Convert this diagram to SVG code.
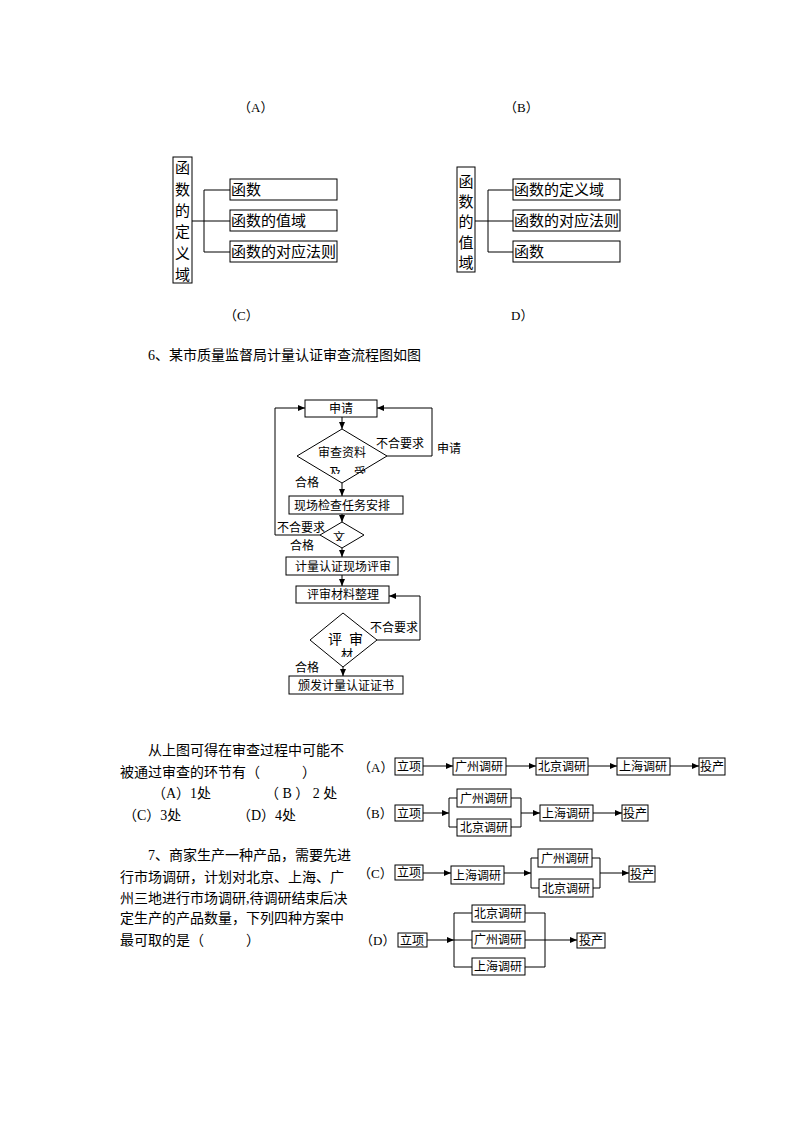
<svg xmlns="http://www.w3.org/2000/svg" width="794" height="1123" viewBox="0 0 794 1123">
<style>
  .bg{fill:#fff}
  .bx{fill:#fff;stroke:#000;stroke-width:1}
  .ln{fill:none;stroke:#000;stroke-width:1}
  .ar{fill:none;stroke:#000;stroke-width:1;marker-end:url(#ah)}
  text{font-family:"Liberation Serif","Noto Sans CJK SC",serif;fill:#000}
  .cjk{font-family:"Noto Sans CJK SC",sans-serif}
  .t15{font-size:15px}
  .t14{font-size:14px}
  .t13{font-size:13px}
  .t12{font-size:12px}
  .mid{text-anchor:middle}
</style>
<defs>
  <marker id="ah" markerWidth="8" markerHeight="8" refX="7" refY="4" orient="auto" markerUnits="userSpaceOnUse">
    <path d="M0,1 L7,4 L0,7 Z" fill="#000"/>
  </marker>
  <clipPath id="c1"><rect x="300" y="440" width="85" height="34"/></clipPath>
  <clipPath id="c2"><rect x="325" y="525" width="35" height="16"/></clipPath>
  <clipPath id="c3"><rect x="315" y="625" width="60" height="32"/></clipPath>
</defs>
<rect class="bg" x="0" y="0" width="794" height="1123"/>

<!-- option labels -->
<text class="t13" x="238" y="111.5"><tspan class="cjk">（</tspan>A<tspan class="cjk">）</tspan></text>
<text class="t13" x="504" y="111.5"><tspan class="cjk">（</tspan>B<tspan class="cjk">）</tspan></text>
<text class="t13" x="224" y="319.5"><tspan class="cjk">（</tspan>C<tspan class="cjk">）</tspan></text>
<text class="t13" x="511" y="319.5">D<tspan class="cjk">）</tspan></text>

<!-- left function diagram -->
<g id="fd1">
  <rect class="bx" x="173" y="157" width="19" height="126"/>
  <text class="t15 mid" x="182.5" y="173">函</text>
  <text class="t15 mid" x="182.5" y="194.5">数</text>
  <text class="t15 mid" x="182.5" y="216">的</text>
  <text class="t15 mid" x="182.5" y="237">定</text>
  <text class="t15 mid" x="182.5" y="258.5">义</text>
  <text class="t15 mid" x="182.5" y="280">域</text>
</g>
<g id="fd1-conn">
  <path class="ln" d="M192,221 H204 M204,190 V252 M204,190 H230 M204,221 H230 M204,252 H230"/>
</g>
<g id="fd1-b1"><rect class="bx" x="230" y="179" width="107" height="21"/><text class="t15" x="231" y="195">函数</text></g>
<g id="fd1-b2"><rect class="bx" x="230" y="210" width="107" height="21"/><text class="t15" x="231" y="226">函数的值域</text></g>
<g id="fd1-b3"><rect class="bx" x="230" y="241" width="107" height="21"/><text class="t15" x="231" y="257">函数的对应法则</text></g>

<!-- right function diagram -->
<g id="fd2">
  <rect class="bx" x="457" y="167" width="18" height="105"/>
  <text class="t15 mid" x="466" y="186.5">函</text>
  <text class="t15 mid" x="466" y="207">数</text>
  <text class="t15 mid" x="466" y="227">的</text>
  <text class="t15 mid" x="466" y="247.5">值</text>
  <text class="t15 mid" x="466" y="267.5">域</text>
</g>
<g id="fd2-conn">
  <path class="ln" d="M475,221 H488 M488,190 V252 M488,190 H513 M488,221 H513 M488,252 H513"/>
</g>
<g id="fd2-b1"><rect class="bx" x="513" y="179" width="107" height="21"/><text class="t15" x="514" y="195">函数的定义域</text></g>
<g id="fd2-b2"><rect class="bx" x="513" y="210" width="107" height="21"/><text class="t15" x="514" y="226">函数的对应法则</text></g>
<g id="fd2-b3"><rect class="bx" x="513" y="241" width="107" height="21"/><text class="t15" x="514" y="257">函数</text></g>

<!-- question 6 heading -->
<text class="t14" x="148" y="360">6、某市质量监督局计量认证审查流程图如图</text>

<!-- flowchart connectors -->
<g id="flow-connectors">
  <path class="ar" d="M342,417 V429"/>
  <path class="ar" d="M342,483 V496"/>
  <path class="ar" d="M342,514 V522"/>
  <path class="ar" d="M342,548 V557"/>
  <path class="ar" d="M342,575 V586"/>
  <path class="ar" d="M343,667 V676"/>
  <path class="ar" d="M387,456 H432 V408 H377"/>
  <path class="ar" d="M320,535 H275 V408 H305"/>
  <path class="ar" d="M377,640 H420 V596 H389"/>
</g>
<g id="n-shenqing"><rect class="bx" x="305" y="400" width="72" height="17"/><text class="t12 mid" x="341" y="412.5">申请</text></g>
<g id="n-d1">
  <polygon class="bx" points="342,429 387,456 342,483 297,456"/>
  <g clip-path="url(#c1)">
    <text class="t12 mid" x="342" y="457">审查资料</text>
    <text class="t12 mid" x="335" y="476.5">及</text>
    <text class="t12 mid" x="360" y="476.5">受</text>
  </g>
</g>
<g id="n-xianchang"><rect class="bx" x="289" y="496" width="114" height="18"/><text class="t12" x="294" y="509.5">现场检查任务安排</text></g>
<g id="n-d2">
  <polygon class="bx" points="342,522 364,535 342,548 320,535"/>
  <g clip-path="url(#c2)"><text class="t12 mid" x="339" y="542">文</text></g>
</g>
<g id="n-jiliang"><rect class="bx" x="286" y="557" width="112" height="18"/><text class="t12" x="295" y="570.5">计量认证现场评审</text></g>
<g id="n-pingshen"><rect class="bx" x="296" y="586" width="93" height="17"/><text class="t12" x="307" y="599">评审材料整理</text></g>
<g id="n-d3">
  <polygon class="bx" points="343,613 377,640 343,667 310,640"/>
  <g clip-path="url(#c3)">
    <text class="t14 mid" x="335" y="644">评</text>
    <text class="t14 mid" x="356" y="644">审</text>
    <text class="t12 mid" x="347" y="659">材</text>
  </g>
</g>
<g id="n-banfa"><rect class="bx" x="289" y="676" width="114" height="18"/><text class="t12" x="298" y="689.5">颁发计量认证证书</text></g>
<g id="flow-labels">
  <text class="t12" x="376" y="447.5">不合要求</text>
  <text class="t12" x="437" y="452.5">申请</text>
  <text class="t12" x="295" y="486.5">合格</text>
  <text class="t12" x="277" y="532">不合要求</text>
  <text class="t12" x="290" y="549.5">合格</text>
  <text class="t12" x="370" y="631.5">不合要求</text>
  <text class="t12" x="295" y="671.5">合格</text>
</g>

<!-- question text -->
<g id="q6-text" class="t14">
  <text x="148" y="755">从上图可得在审查过程中可能不</text>
  <text x="120" y="777">被通过审查的环节有（　　　）</text>
  <text x="152" y="798">（A）1处</text>
  <text x="265" y="798">（ B ） 2 处</text>
  <text x="123" y="820">（C）3处</text>
  <text x="237" y="820">（D）4处</text>
</g>
<g id="q7-text" class="t14">
  <text x="148" y="860">7、商家生产一种产品，需要先进</text>
  <text x="120" y="882">行市场调研，计划对北京、上海、广</text>
  <text x="120" y="903">州三地进行市场调研,待调研结束后决</text>
  <text x="120" y="923">定生产的产品数量，下列四种方案中</text>
  <text x="120" y="945">最可取的是（　　　）</text>
</g>

<!-- option A -->
<text class="t13" x="358" y="771.5"><tspan class="cjk">（</tspan>A<tspan class="cjk">）</tspan></text>
<g id="a-conn">
  <path class="ar" d="M423,766 H453"/>
  <path class="ar" d="M506,766 H536"/>
  <path class="ar" d="M588,766 H617"/>
  <path class="ar" d="M670,766 H699"/>
</g>
<g id="a-lx"><rect class="bx" x="395" y="758" width="28" height="17"/><text class="t12" x="397" y="771">立项</text></g>
<g id="a-gz"><rect class="bx" x="453" y="758" width="53" height="17"/><text class="t12" x="455" y="771">广州调研</text></g>
<g id="a-bj"><rect class="bx" x="536" y="758" width="52" height="17"/><text class="t12" x="538" y="771">北京调研</text></g>
<g id="a-sh"><rect class="bx" x="617" y="758" width="53" height="17"/><text class="t12" x="619" y="771">上海调研</text></g>
<g id="a-tc"><rect class="bx" x="699" y="758" width="26" height="17"/><text class="t12" x="700" y="771">投产</text></g>

<!-- option B -->
<text class="t13" x="358" y="818"><tspan class="cjk">（</tspan>B<tspan class="cjk">）</tspan></text>
<g id="b-conn">
  <path class="ar" d="M423,813 H449"/>
  <path class="ln" d="M449,798 V827 M449,798 H457 M449,827 H457"/>
  <path class="ln" d="M511,798 H521 M511,827 H521 M521,798 V827"/>
  <path class="ar" d="M521,813 H540"/>
  <path class="ar" d="M593,813 H622"/>
</g>
<g id="b-lx"><rect class="bx" x="395" y="805" width="28" height="16"/><text class="t12" x="397" y="817.5">立项</text></g>
<g id="b-gz"><rect class="bx" x="457" y="789" width="54" height="18"/><text class="t12" x="460" y="802.5">广州调研</text></g>
<g id="b-bj"><rect class="bx" x="457" y="819" width="54" height="17"/><text class="t12" x="460" y="832">北京调研</text></g>
<g id="b-sh"><rect class="bx" x="540" y="805" width="53" height="16"/><text class="t12" x="542" y="817.5">上海调研</text></g>
<g id="b-tc"><rect class="bx" x="622" y="805" width="26" height="16"/><text class="t12" x="623" y="817.5">投产</text></g>

<!-- option C -->
<text class="t13" x="358" y="878"><tspan class="cjk">（</tspan>C<tspan class="cjk">）</tspan></text>
<g id="c-conn">
  <path class="ar" d="M423,873 H451"/>
  <path class="ar" d="M504,873 H531"/>
  <path class="ln" d="M531,858 V888 M531,858 H538 M531,888 H539"/>
  <path class="ln" d="M592,858 H600 M593,888 H600 M600,858 V888"/>
  <path class="ar" d="M600,873 H629"/>
</g>
<g id="c-lx"><rect class="bx" x="395" y="865" width="28" height="15"/><text class="t12" x="397" y="877">立项</text></g>
<g id="c-sh"><rect class="bx" x="451" y="866" width="53" height="18"/><text class="t12" x="453" y="879.5">上海调研</text></g>
<g id="c-gz"><rect class="bx" x="538" y="849" width="54" height="18"/><text class="t12" x="541" y="862.5">广州调研</text></g>
<g id="c-bj"><rect class="bx" x="539" y="879" width="54" height="18"/><text class="t12" x="542" y="892.5">北京调研</text></g>
<g id="c-tc"><rect class="bx" x="629" y="866" width="26" height="16"/><text class="t12" x="630" y="878.5">投产</text></g>

<!-- option D -->
<text class="t13" x="360" y="945"><tspan class="cjk">（</tspan>D<tspan class="cjk">）</tspan></text>
<g id="d-conn">
  <path class="ar" d="M427,940 H454"/>
  <path class="ln" d="M454,913 V967 M454,913 H472 M454,940 H472 M454,967 H472"/>
  <path class="ln" d="M525,913 H545 M525,967 H545 M545,913 V967"/>
  <path class="ar" d="M525,940 H577"/>
</g>
<g id="d-lx"><rect class="bx" x="398" y="933" width="29" height="14"/><text class="t12" x="400" y="944.5">立项</text></g>
<g id="d-bj"><rect class="bx" x="472" y="905" width="53" height="17"/><text class="t12" x="474" y="918">北京调研</text></g>
<g id="d-gz"><rect class="bx" x="472" y="931" width="53" height="17"/><text class="t12" x="474" y="944">广州调研</text></g>
<g id="d-sh"><rect class="bx" x="472" y="958" width="53" height="17"/><text class="t12" x="474" y="971">上海调研</text></g>
<g id="d-tc"><rect class="bx" x="577" y="933" width="28" height="15"/><text class="t12" x="579" y="944.5">投产</text></g>
</svg>
